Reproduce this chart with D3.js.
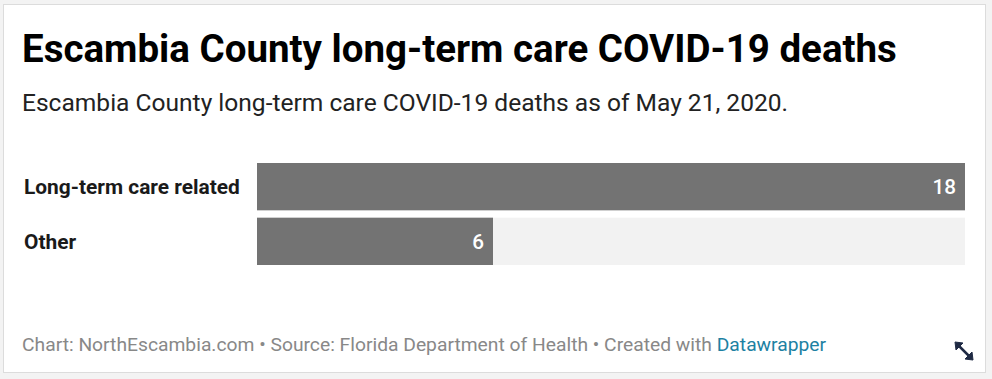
<!DOCTYPE html>
<html>
<head>
<meta charset="utf-8">
<script src="https://cdn.jsdelivr.net/npm/d3@7"></script>
<style>
html,body{margin:0;padding:0;background:#f3f3f3;}
svg{display:block;font-family:Roboto,"Noto Sans",sans-serif;}
</style>
</head>
<body>
<svg id="chart" width="992" height="379"></svg>
<script>
const title = "Escambia County long-term care COVID-19 deaths";
const subtitle = "Escambia County long-term care COVID-19 deaths as of May 21, 2020.";
const categories = ["Long-term care related", "Other"];
const values = [18, 6];
const xMax = 18;
const footerParts = ["Chart: NorthEscambia.com • Source: Florida Department of Health • Created with ", "Datawrapper"];

const svg = d3.select("#chart");
// panel
svg.append("rect").attr("x", 3.5).attr("y", 4.5).attr("width", 982).attr("height", 368)
  .attr("fill", "#fff").attr("stroke", "#dcdcdc").attr("stroke-width", 1);

svg.append("text").attr("x", 22).attr("y", 62)
  .attr("font-size", 38.5).attr("font-weight", 700).attr("fill", "#000")
  .text(title);
svg.append("text").attr("x", 22).attr("y", 111)
  .attr("font-size", 24.55).attr("fill", "#222")
  .text(subtitle);

const x = d3.scaleLinear().domain([0, xMax]).range([257, 965]);
const y = d3.scaleBand().domain(categories).range([163, 265]).paddingInner(0.135);

const g = svg.append("g");
const rows = g.selectAll("g.row").data(categories.map((c, i) => ({c, v: values[i]})))
  .enter().append("g");
rows.append("rect").attr("x", x(0)).attr("y", d => y(d.c))
  .attr("width", x(xMax) - x(0)).attr("height", y.bandwidth()).attr("fill", "#f2f2f2");
rows.append("rect").attr("x", x(0)).attr("y", d => y(d.c))
  .attr("width", d => x(d.v) - x(0)).attr("height", y.bandwidth()).attr("fill", "#737373");
rows.append("text").attr("x", 24).attr("y", d => y(d.c) + y.bandwidth() / 2)
  .attr("dy", "0.35em").attr("font-size", 20.9).attr("font-weight", 700).attr("fill", "#1a1a1a")
  .text(d => d.c);
rows.append("text").attr("x", d => x(d.v) - 9).attr("y", d => y(d.c) + y.bandwidth() / 2)
  .attr("dy", "0.35em").attr("text-anchor", "end").attr("font-size", 20.7).attr("font-weight", 500).attr("fill", "#fff")
  .text(d => d.v);

const foot = svg.append("text").attr("x", 22).attr("y", 351).attr("font-size", 19.27).attr("fill", "#888");
foot.append("tspan").text(footerParts[0]);
foot.append("tspan").attr("fill", "#1d81a2").text(footerParts[1]);

// resize icon
const ic = svg.append("g").attr("stroke", "#1f2a44").attr("fill", "#1f2a44");
ic.append("line").attr("x1", 958).attr("y1", 345).attr("x2", 970).attr("y2", 357).attr("stroke-width", 2.5);
ic.append("path").attr("d", "M955,342 L963,343 L956,350 Z").attr("stroke-width", 1);
ic.append("path").attr("d", "M973,360 L965,359 L972,352 Z").attr("stroke-width", 1);
</script>
</body>
</html>
